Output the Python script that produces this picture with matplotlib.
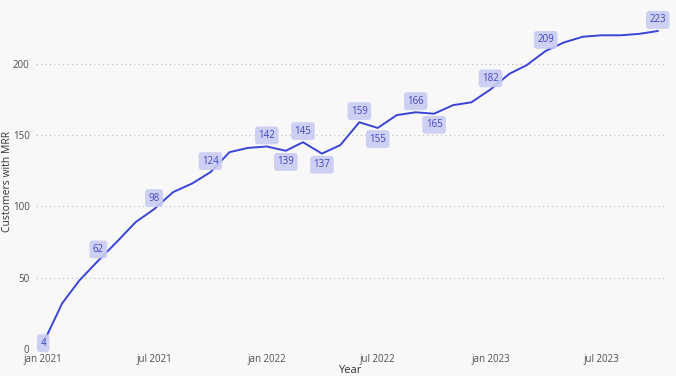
import pandas as pd
import matplotlib
matplotlib.use('Agg')
import matplotlib.pyplot as plt

months = pd.date_range('2021-01-01', '2023-10-01', freq='MS')
customers = [4, 32, 48, 62, 75, 89, 98, 110, 116, 124, 138, 141,
             142, 139, 145, 137, 143, 159, 155, 164, 166, 165, 171, 173,
             182, 193, 199, 209, 215, 219, 220, 220, 221, 223]

# which points get a data label, and where it sits
label_idx = [0, 3, 6, 9, 12, 13, 14, 15, 17, 18, 20, 21, 24, 27, 33]
label_pos = ['center', 'above', 'above', 'above', 'above', 'below', 'above', 'below',
             'above', 'below', 'above', 'below', 'above', 'above', 'above']

tick_dates = pd.to_datetime(['2021-01-01', '2021-07-01', '2022-01-01',
                             '2022-07-01', '2023-01-01', '2023-07-01'])
tick_labels = ['jan 2021', 'jul 2021', 'jan 2022', 'jul 2022', 'jan 2023', 'jul 2023']

plt.rcParams['font.family'] = ['Open Sans', 'DejaVu Sans']

bg = '#f8f8f8'
line_col = '#3a44d8'
fig = plt.figure(figsize=(6.76, 3.76), dpi=100, facecolor=bg)
ax = fig.add_axes([0.053, 0.072, 0.929, 0.891], facecolor=bg)

ax.plot(months, customers, color=line_col, linewidth=1.4, zorder=3)

for i, pos in zip(label_idx, label_pos):
    dy = {'above': 8, 'below': -8, 'center': 0}[pos]
    ax.annotate(str(customers[i]), (months[i], customers[i]),
                xytext=(0, dy), textcoords='offset points',
                ha='center', va='center', fontsize=7, color='#4048c0',
                bbox=dict(boxstyle='round,pad=0.35,rounding_size=0.3',
                          fc='#c9ccf2', ec='none', alpha=0.9),
                zorder=4)

ax.set_ylim(0, 235)
ax.set_yticks([0, 50, 100, 150, 200])
ax.set_xlim(months[0] - pd.Timedelta(days=12), months[-1] + pd.Timedelta(days=10))
ax.set_xticks(tick_dates)
ax.set_xticklabels(tick_labels)

ax.grid(axis='y', linestyle=(0, (1, 3)), color='#bbbbbb', linewidth=0.8)
ax.grid(axis='x', visible=False)
for s in ax.spines.values():
    s.set_visible(False)
ax.tick_params(axis='x', length=0, labelsize=7, colors='#505050', pad=3.5)
ax.tick_params(axis='y', length=0, labelsize=7, colors='#505050', pad=4.5)

ax.set_xlabel('Year', fontsize=8, color='#333333', labelpad=0.5)
ax.set_ylabel('Customers with MRR', fontsize=7.5, color='#333333')
ax.yaxis.set_label_coords(-0.037, 0.5)

fig.savefig('out.png', dpi=100, facecolor=bg)
